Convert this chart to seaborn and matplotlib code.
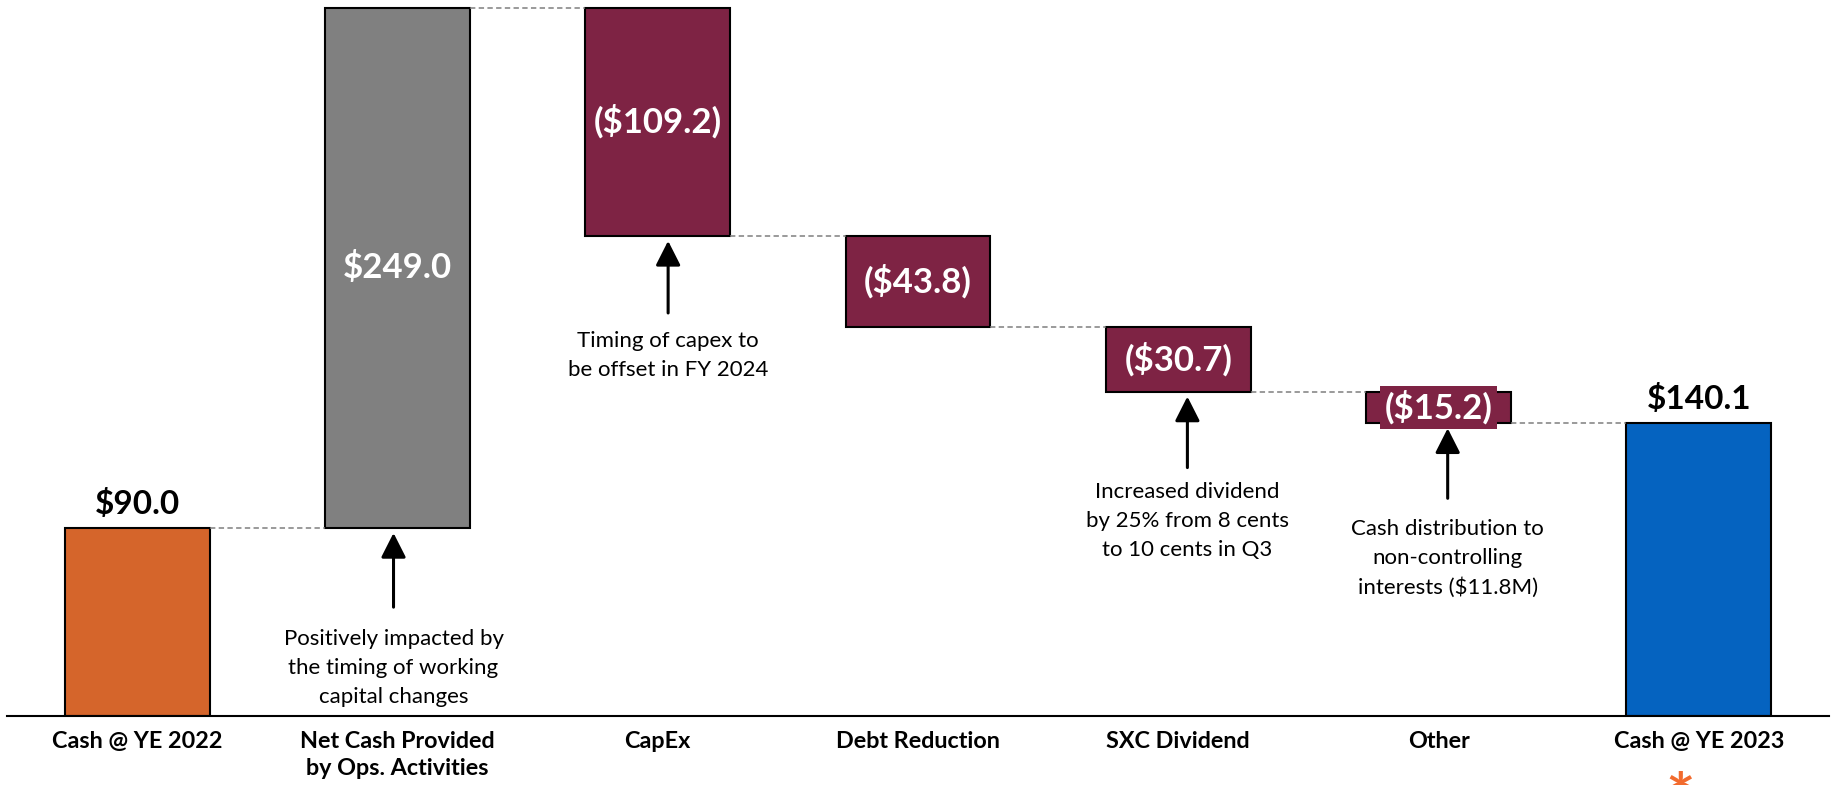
import numpy as np
import pandas as pd
import matplotlib
matplotlib.use("Agg")
import matplotlib.pyplot as plt
import seaborn as sns

# ---------------- data ----------------
categories = ["Cash @ YE 2022", "Net Cash Provided\nby Ops. Activities", "CapEx",
              "Debt Reduction", "SXC Dividend", "Other", "Cash @ YE 2023"]
changes = [90.0, 249.0, -109.2, -43.8, -30.7, -15.2, 140.1]
bar_kind = ["total", "delta", "delta", "delta", "delta", "delta", "total"]
value_labels = ["$90.0", "$249.0", "($109.2)", "($43.8)", "($30.7)", "($15.2)", "$140.1"]
bar_colors = ["#D5652B", "#808080", "#7E2344", "#7E2344", "#7E2344", "#7E2344", "#0563C0"]

notes = ["Positively impacted by\nthe timing of working\ncapital changes",
         "Timing of capex to\nbe offset in FY 2024",
         "Increased dividend\nby 25% from 8 cents\nto 10 cents in Q3",
         "Cash distribution to\nnon-controlling\ninterests ($11.8M)"]
note_bar = [1, 2, 4, 5]

# ---------------- waterfall geometry from data ----------------
bottoms, tops = [], []
running = 0.0
for v, k in zip(changes, bar_kind):
    if k == "total":
        b, t = 0.0, v
        running = v
    else:
        new = running + v
        b, t = min(running, new), max(running, new)
        running = new
    bottoms.append(b)
    tops.append(t)
levels = []
running = 0.0
for v, k in zip(changes, bar_kind):
    running = v if k == "total" else running + v
    levels.append(running)

df = pd.DataFrame({"cat": categories, "h": np.array(tops) - np.array(bottoms)})

# ---------------- figure ----------------
sns.set_theme(style="white")
plt.rcParams["font.family"] = ["Lato", "DejaVu Sans"]

W, H = 1833, 785
fig = plt.figure(figsize=(W / 100, H / 100), dpi=100)
ax = fig.add_axes([7 / W, 1 - 716 / H, 1822 / W, 716 / H])

bw = 0.557
sns.barplot(data=df, x="cat", y="h", hue="cat", palette=bar_colors, legend=False,
            width=bw, edgecolor="black", linewidth=1.5, ax=ax, saturation=1)
for p, b in zip(ax.patches, bottoms):
    p.set_y(b)

ax.set_xlim(-0.5, 6.5)
ax.set_ylim(0, 342.7)
ax.set_xlabel("")
ax.set_ylabel("")
ax.set_yticks([])
for s in ["top", "left", "right"]:
    ax.spines[s].set_visible(False)
ax.spines["bottom"].set_color("black")
ax.spines["bottom"].set_linewidth(1.5)
ax.tick_params(axis="x", length=0, pad=11)
for lab in ax.get_xticklabels():
    lab.set_fontweight("bold")
    lab.set_fontsize(16.8)
    lab.set_color("black")
    lab.set_linespacing(1.33)

# connectors
for i in range(len(categories) - 1):
    ax.plot([i + bw / 2, i + 1 - bw / 2], [levels[i], levels[i]], ls=(0, (3.5, 2.2)),
            color="#7F7F7F", lw=1.1, zorder=1)

# value labels
for i, (lab, k) in enumerate(zip(value_labels, bar_kind)):
    if k == "total":
        ax.annotate(lab, xy=(i, tops[i]), xytext=(0, 10), textcoords="offset points",
                    ha="center", va="baseline", fontsize=24, fontweight="bold", color="black")
    else:
        mid = (tops[i] + bottoms[i]) / 2
        bbox = None
        if tops[i] - bottoms[i] < 20:
            bbox = dict(boxstyle="square,pad=0.12", fc=bar_colors[i], ec="none")
        ax.text(i, mid, lab, ha="center", va="center", fontsize=25, fontweight="bold",
                color="white", bbox=bbox, zorder=5)

# notes with arrows
arrow_dx = [-0.015, 0.04, 0.035, 0.035]
arrow_len = [35.5, 34.5, 34.0, 33.5]
text_gap = [10.5, 8.5, 7.0, 10.0]
for n, bi, dx, L, g in zip(notes, note_bar, arrow_dx, arrow_len, text_gap):
    tip = bottoms[bi] - 2.4
    tail = tip - L
    ax.annotate("", xy=(bi + dx, tip), xytext=(bi + dx, tail),
                arrowprops=dict(arrowstyle="-|>,head_length=0.75,head_width=0.38",
                                color="black", lw=2.2, shrinkA=0, shrinkB=0,
                                mutation_scale=20))
    ax.text(bi + dx, tail - g, n, ha="center", va="top", fontsize=16,
            color="black", linespacing=1.55, multialignment="center")

fig.text(1680 / W, 1 - 772 / H, "*", ha="center", va="top", fontsize=50,
         color="#F26B2E", fontweight="bold")

fig.savefig("out.png", dpi=100)
